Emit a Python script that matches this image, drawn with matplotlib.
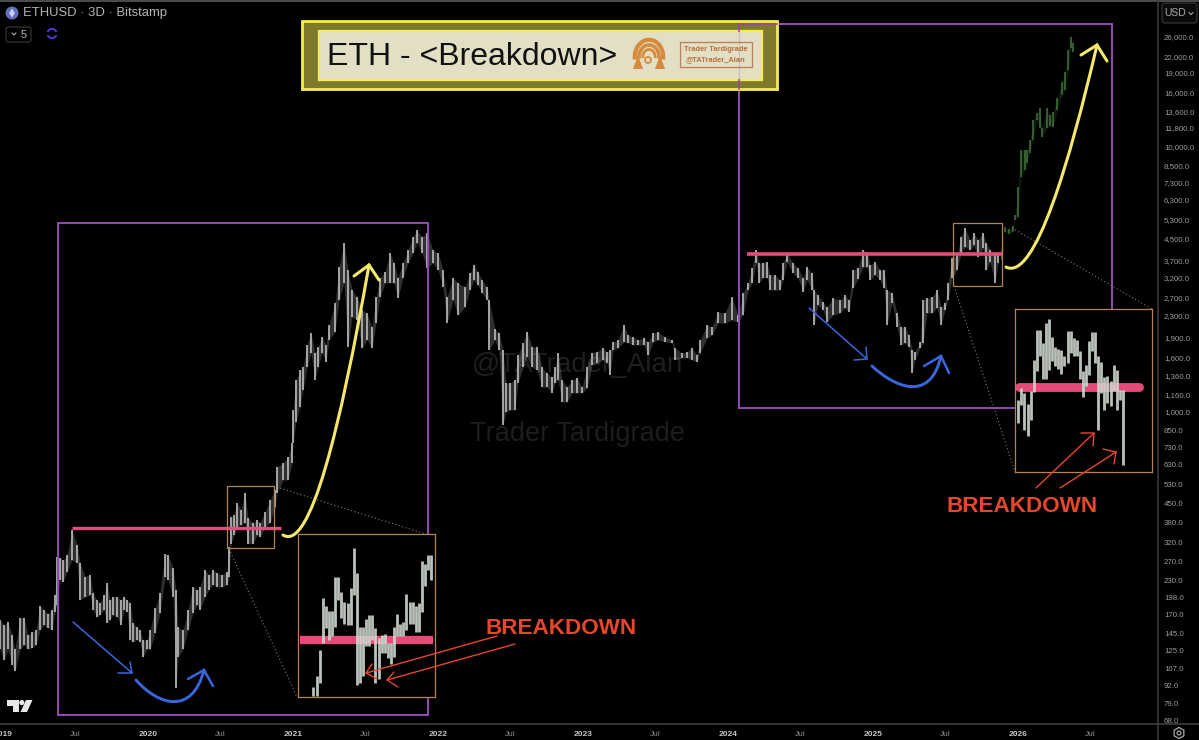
import matplotlib
matplotlib.use("Agg")
import matplotlib.pyplot as plt
import numpy as np
from matplotlib.patches import Rectangle, FancyBboxPatch, PathPatch, Arc, Polygon, Circle, RegularPolygon
from matplotlib.path import Path

plt.rcParams['font.family'] = ['Liberation Sans', 'DejaVu Sans']

# ---------------- price bars (decimal year, high, low) ----------------
years_2019 = [2018.979,2019.007,2019.034,2019.062,2019.082,2019.117,2019.145,2019.172,2019.200,2019.227,2019.255,2019.282,2019.310,2019.338,2019.358,2019.372,2019.393,2019.414,2019.441,2019.476,2019.510,2019.531,2019.565,2019.600,2019.620,2019.648,2019.669,2019.696,2019.717,2019.738,2019.758,2019.786,2019.813,2019.834,2019.855,2019.876,2019.896,2019.924,2019.945,2019.965,2019.993]
highs_2019 = [163,156,160,143,126,166,166,143,146,149,184,178,172,178,202,282,280,274,287,356,313,268,237,241,206,194,189,202,225,194,199,199,194,199,194,189,158,153,149,137,137]
lows_2019  = [126,115,126,110,104,126,131,126,128,131,149,156,152,149,175,186,231,227,248,274,268,194,199,202,178,167,170,178,158,163,170,167,156,178,175,137,134,137,134,118,126]

years_2020 = [2020.014,2020.048,2020.082,2020.117,2020.138,2020.172,2020.193,2020.207,2020.241,2020.276,2020.310,2020.338,2020.358,2020.393,2020.420,2020.448,2020.476,2020.510,2020.545,2020.558,2020.572,2020.593,2020.614,2020.641,2020.669,2020.689,2020.724,2020.751,2020.772,2020.807,2020.841,2020.876,2020.889,2020.931,2020.965,2020.993]
highs_2020 = [149,181,206,289,287,256,212,153,149,178,217,212,217,252,241,252,245,241,248,307,398,406,451,424,491,396,379,389,379,417,463,505,616,639,672,760]
lows_2020  = [126,145,173,237,231,199,90,118,126,149,173,186,178,199,212,221,217,217,221,237,316,341,366,372,379,316,316,341,335,366,379,435,492,550,550,639]

years_2021 = [2021.000,2021.020,2021.048,2021.069,2021.096,2021.124,2021.151,2021.172,2021.200,2021.227,2021.248,2021.289,2021.317,2021.351,2021.379,2021.407,2021.441,2021.476,2021.510,2021.545,2021.572,2021.600,2021.634,2021.669,2021.696,2021.724,2021.758,2021.793,2021.827,2021.855,2021.889,2021.924,2021.965]
highs_2021 = [1012,1314,1433,1470,1782,1978,1662,1752,1911,1782,2120,2568,3510,4330,3422,2875,2706,2416,2353,2084,2706,3200,3357,3967,3637,3200,3637,4072,4560,4847,4560,4722,4072]
lows_2021  = [760,911,1040,1204,1470,1662,1314,1470,1662,1537,1861,1995,2636,3056,1752,2273,2215,1736,1861,1736,2157,2706,3056,3056,3056,2682,3200,3637,3967,4329,3967,3482,3637]

years_2022 = [2022.000,2022.034,2022.062,2022.103,2022.138,2022.186,2022.220,2022.248,2022.276,2022.303,2022.338,2022.351,2022.393,2022.420,2022.448,2022.469,2022.496,2022.531,2022.551,2022.586,2022.614,2022.648,2022.682,2022.717,2022.751,2022.786,2022.807,2022.827,2022.855,2022.889,2022.924,2022.958,2022.993]
highs_2022 = [3967,3422,2706,3200,3056,2950,3333,3574,3360,3137,2950,2636,2048,1978,1706,1280,1280,1314,1633,1815,1995,1752,1752,1470,1396,1349,1470,1662,1314,1236,1314,1337,1236]
lows_2022  = [3422,2950,2157,2636,2313,2480,2875,3137,3003,2800,2636,1706,1861,1706,888,995,1012,1012,1280,1470,1604,1470,1433,1236,1236,1173,1280,1314,1085,1085,1173,1173,1173]

years_2023 = [2023.027,2023.062,2023.096,2023.138,2023.165,2023.186,2023.207,2023.241,2023.282,2023.310,2023.345,2023.379,2023.420,2023.448,2023.482,2023.517,2023.565,2023.614,2023.634,2023.682,2023.717,2023.751,2023.786,2023.807,2023.855,2023.889,2023.931,2023.979]
highs_2023 = [1470,1662,1678,1736,1678,1706,1829,1861,2120,1944,1911,1861,1894,1829,1978,1995,1911,1861,1736,1662,1678,1736,1633,1861,2120,2084,2373,2353]
lows_2023  = [1225,1497,1523,1564,1523,1372,1706,1736,1829,1815,1782,1782,1782,1633,1829,1861,1829,1815,1564,1592,1592,1564,1537,1662,1894,1944,2157,2157]

years_2024 = [2024.027,2024.069,2024.103,2024.138,2024.165,2024.193,2024.214,2024.241,2024.269,2024.289,2024.324,2024.358,2024.379,2024.407,2024.448,2024.482,2024.517,2024.545,2024.579,2024.593,2024.620,2024.655,2024.682,2024.724,2024.772,2024.807,2024.834,2024.862,2024.896,2024.931,2024.958,2024.979]
highs_2024 = [2706,2313,2800,3056,3482,4072,3637,3637,3670,3276,3276,3137,3637,3967,3637,3482,3200,3510,3333,2875,2753,2590,2480,2682,2636,2753,2636,3422,3482,4072,3998,3574]
lows_2024  = [2215,2176,2313,2875,3056,3637,3056,3200,3200,2875,2875,2875,3137,3670,3333,3200,2825,3137,2875,2120,2523,2416,2176,2313,2353,2460,2373,2925,3168,3510,3510,3137]

years_2025 = [2025.014,2025.048,2025.076,2025.096,2025.131,2025.165,2025.193,2025.220,2025.248,2025.269,2025.289,2025.324,2025.345,2025.372,2025.407,2025.441,2025.469,2025.496,2025.517,2025.545,2025.579,2025.607,2025.634,2025.669,2025.696,2025.724,2025.758,2025.779,2025.807,2025.841,2025.862]
highs_2025 = [3670,3422,3422,2875,2800,2353,2084,2084,1944,1706,1678,1829,2636,2682,2706,2875,2480,2568,3056,3800,3899,4560,4940,4443,4722,4443,4722,4329,4072,3899,3967]
lows_2025  = [3276,3137,2925,2120,2568,2084,1782,1815,1752,1396,1564,1736,1815,2353,2353,2460,2120,2416,2636,3200,3422,3967,4180,4072,4254,3830,4145,3422,3670,3056,3637]

# green projected path
proj_years = [2025.889,2025.910,2025.938,2025.965,2025.979,2026.000,2026.020,2026.048,2026.062,2026.082,2026.103,2026.131,2026.151,2026.165,2026.200,2026.220,2026.241,2026.269,2026.303,2026.324,2026.345,2026.365,2026.379]
proj_highs = [4072,4975,4900,5000,5520,7050,9720,9720,9720,10610,12620,13420,14020,11780,14020,13200,13540,15290,17570,19175,23220,26000,24680]
proj_lows  = [3733,4764,4700,4764,5290,5430,7690,8170,8680,9460,10610,12620,11780,10890,11780,12000,11880,13780,15690,16390,19510,23630,22820]

# magnified 3-day candles
inset1_highs = [315,326,356,422,412,405,405,453,453,431,417,415,436,498,459,384,384,394,399,399,382,370,374,375,364,364,384,401,388,390,428,417,417,412,415,477,472,487,487]
inset1_lows  = [306,306,319,364,382,368,372,384,419,396,388,386,386,426,317,319,326,360,360,368,319,323,352,352,346,340,348,372,372,372,380,388,388,378,378,403,439,464,448]
inset2_highs = [3815,3965,3900,3761,3922,4355,4810,4810,4602,4917,4982,4694,4542,4511,4501,4403,4783,4783,4679,4643,4477,4190,4279,4627,4767,4767,4413,4316,4112,4121,4054,4279,4204,3935,3935]
inset2_lows  = [3531,3752,3455,3379,3570,3909,4190,4403,4085,4085,4213,4331,4260,4222,4158,4270,4307,4452,4403,4403,4085,3849,3996,4144,4477,4307,3455,3900,3691,3773,3732,3922,3691,3815,3077]

# resistance levels: price, start year, end year
level_2019 = (362, 2019.475, 2020.917)
level_2024 = (3933, 2024.131, 2025.896)
inset1_level = 368
inset2_level = 3974

price_ticks = [26000,22000,19000,16000,13600,11800,10000,8500,7300,6300,5300,4500,3700,3200,2700,2300,1900,1600,1360,1160,1000,850,730,630,530,450,380,320,270,230,198,170,145,125,107,92,79,68]
year_ticks = [2019,2020,2021,2022,2023,2024,2025,2026]
jul_ticks = [2019.5,2020.5,2021.5,2022.5,2023.5,2024.5,2025.5,2026.5]

W, H = 1199, 740
fig = plt.figure(figsize=(W/100, H/100), dpi=100, facecolor='black')

def box(l, t, r, b):
    return [l/W, 1-b/H, (r-l)/W, (b-t)/H]

# ---------------- main chart ----------------
ax = fig.add_axes(box(0, 2, 1158, 723), facecolor='black', zorder=1)
ax.set_yscale('log')
ax.set_xlim(2018.979, 2026.965)
ax.set_ylim(66.4, 35260)

BAR = '#b0b0b0'
def draw_bars(a, x, hi, lo, color, lw=1.3, fill_alpha=0.27):
    x = np.asarray(x); hi = np.asarray(hi); lo = np.asarray(lo)
    a.fill_between(x, lo, hi, color=color, alpha=fill_alpha, lw=0, zorder=2.5)
    a.vlines(x, lo, hi, color=color, lw=lw, zorder=3)

hist_x = years_2019+years_2020+years_2021+years_2022+years_2023+years_2024+years_2025
hist_h = highs_2019+highs_2020+highs_2021+highs_2022+highs_2023+highs_2024+highs_2025
hist_l = lows_2019+lows_2020+lows_2021+lows_2022+lows_2023+lows_2024+lows_2025
draw_bars(ax, hist_x, hist_h, hist_l, BAR)
draw_bars(ax, proj_years, proj_highs, proj_lows, '#3a6435')

PINK = '#e64a78'
ax.hlines(level_2019[0], level_2019[1], level_2019[2], color=PINK, lw=2.4, zorder=4)
ax.hlines(level_2024[0], level_2024[1], level_2024[2], color=PINK, lw=2.6, zorder=4)

ax.yaxis.tick_right()
ax.set_yticks(price_ticks)
ax.set_yticklabels([f"{v:,.1f}" for v in price_ticks])
ax.minorticks_off()
ax.tick_params(axis='y', which='both', length=0, pad=4.3, labelsize=5.7, labelcolor='#9b9b9b')
ax.set_xticks(year_ticks + jul_ticks)
ax.set_xticklabels([str(y) for y in year_ticks] + ['Jul']*len(jul_ticks))
ax.tick_params(axis='x', which='both', length=0, pad=5.6, labelsize=6)
for i, t in enumerate(ax.get_xticklabels()):
    if i < len(year_ticks):
        t.set_color('#c4c4c4'); t.set_fontweight('bold')
    else:
        t.set_color('#8a8a8a')
for s in ax.spines.values():
    s.set_visible(False)
ax.patch.set_visible(False)

# ---------------- watermarks beneath the candles ----------------
low = fig.add_axes([0,0,1,1], facecolor='none', zorder=0.5)
low.set_xlim(0, W); low.set_ylim(H, 0); low.axis('off')
low.text(577, 365, '@TATrader_Alan', color='#1f1f1f', fontsize=20, ha='center', va='center')
low.text(578, 434, 'Trader Tardigrade', color='#1d1d1d', fontsize=19.5, ha='center', va='center')

# ---------------- drawings that sit behind the insets ----------------
over0 = fig.add_axes([0,0,1,1], facecolor='none', zorder=2)
over0.set_xlim(0, W); over0.set_ylim(H, 0); over0.axis('off')

PURPLE = '#9449b8'
over0.add_patch(Rectangle((57.5,223), 370.5, 492, fill=False, ec=PURPLE, lw=1.4))
over0.add_patch(Rectangle((739,24), 373, 384, fill=False, ec=PURPLE, lw=1.4))
ORANGE = '#b5834f'
over0.add_patch(Rectangle((227,486), 47, 62, fill=False, ec=ORANGE, lw=0.9))
over0.add_patch(Rectangle((953,223), 49, 63, fill=False, ec=ORANGE, lw=0.9))
DOT = '#8a7a62'
for (a, b) in [((229,549),(297,697)), ((280,488),(435,537)), ((954,286),(1015,472)), ((1012,228),(1152,309))]:
    over0.plot([a[0],b[0]],[a[1],b[1]], color=DOT, lw=0.8, ls=(0,(1,2.2)))

# ---------------- insets ----------------
def make_inset(b, xlim, ylim, hi, lo, level, lv_x, lv_w, cap):
    a = fig.add_axes(box(*b), facecolor='black', zorder=3)
    a.set_yscale('log'); a.set_xlim(*xlim); a.set_ylim(*ylim)
    a.hlines(level, lv_x[0], lv_x[1], color=PINK, lw=lv_w, zorder=2, capstyle=cap)
    idx = np.arange(len(hi))
    a.vlines(idx, lo, hi, color='#cdd8cf', lw=2.0, zorder=3, alpha=0.9)
    a.set_xticks([]); a.set_yticks([]); a.minorticks_off()
    for s in a.spines.values():
        s.set_color(ORANGE); s.set_linewidth(0.9)
    return a

make_inset((298,534,435,697), (-5,39.2), (304.5,522), inset1_highs, inset1_lows, inset1_level, (-4.3,38.7), 6, 'butt')
make_inset((1015,309,1152,472), (-1.09,43.5), (3003,5150), inset2_highs, inset2_lows, inset2_level, (0.2,39.2), 6.4, 'round')

# ---------------- upper overlay ----------------
ov = fig.add_axes([0,0,1,1], facecolor='none', zorder=5)
ov.set_xlim(0, W); ov.set_ylim(H, 0); ov.axis('off')

def bez(p0, c1, c2, p1, color, lw):
    ov.add_patch(PathPatch(Path([p0,c1,c2,p1],[Path.MOVETO,Path.CURVE4,Path.CURVE4,Path.CURVE4]),
                           fill=False, ec=color, lw=lw, capstyle='round'))
def poly(pts, color, lw):
    xs, ys = zip(*pts)
    ov.plot(xs, ys, color=color, lw=lw, solid_capstyle='round', solid_joinstyle='miter')

YEL = '#f6e96a'
bez((283,535),(310,552),(340,430),(369,265), YEL, 2.2)
poly([(354,276),(369,265),(379,280)], YEL, 2.2)
bez((1006,267),(1035,282),(1070,160),(1097,45), YEL, 2.2)
poly([(1081,55),(1097,45),(1107,61)], YEL, 2.2)

BLUE = '#3a66dc'
poly([(73,622),(132,673)], BLUE, 1.1)
poly([(118,673),(132,673),(130,662)], BLUE, 1.1)
bez((136,680),(158,705),(192,716),(204,670), BLUE, 2.1)
poly([(188,679),(204,670),(213,686)], BLUE, 1.8)
poly([(809,308),(867,359)], BLUE, 1.1)
poly([(854,360),(867,359),(866,347)], BLUE, 1.1)
bez((872,366),(892,385),(930,405),(941,356), BLUE, 2.1)
poly([(924,366),(941,356),(949,373)], BLUE, 1.8)

RED = '#e8462c'
poly([(497,636),(366,673)], RED, 1.0)
poly([(372,664),(366,673),(377,679)], RED, 1.0)
poly([(515,644),(387,680)], RED, 1.0)
poly([(394,672),(387,680),(398,687)], RED, 1.0)
poly([(1036,488),(1094,433)], RED, 1.0)
poly([(1081,433),(1094,433),(1093,446)], RED, 1.0)
poly([(1060,488),(1116,452)], RED, 1.0)
poly([(1103,449),(1116,452),(1114,464)], RED, 1.0)
ov.text(561, 629, 'BREAKDOWN', color=RED, fontsize=16.2, fontweight='bold', ha='center', va='center')
ov.text(1022.5, 506, 'BREAKDOWN', color=RED, fontsize=16.2, fontweight='bold', ha='center', va='center')

# title box
ov.add_patch(Rectangle((302,21), 475, 68, fc='#7e7a2c', ec='#f7ec55', lw=2))
ov.add_patch(Rectangle((319,31), 443, 49, fc='#e3dfc4', ec='#f7ec55', lw=1.6))
ov.plot([739,777],[24,24], color='#a0479f', lw=1.2)
ov.plot([739,739],[24,31], color='#a0479f', lw=1.2)
ov.plot([739,739],[31,80], color='#a05aa8', lw=0.9, alpha=0.25)
ov.plot([739,739],[80,89], color='#a0479f', lw=1.2)
ov.text(327, 57, 'ETH - <Breakdown>', color='#111111', fontsize=23, ha='left', va='center')
# logo swirl
LOGO = '#d68a3d'
for r, lw in [(15,3.0),(10.5,2.6),(6.5,2.0)]:
    ov.add_patch(Arc((649,57), 2*r*0.95, 2*r*1.15, theta1=170, theta2=370, color=LOGO, lw=lw))
ov.add_patch(Polygon([(633,69),(638,55),(643,69)], fc=LOGO, ec='none'))
ov.add_patch(Polygon([(655,69),(660,55),(665,69)], fc=LOGO, ec='none'))
ov.add_patch(Circle((648,60), 3.0, fc='none', ec=LOGO, lw=1.3))
ov.add_patch(Rectangle((680,42), 72, 25, fc='none', ec='#b87f58', lw=0.9))
ov.text(716, 49.5, 'Trader Tardigrade', color='#b5713c', fontsize=5.4, fontweight='bold', ha='center', va='center')
ov.text(716, 59.5, '@TATrader_Alan', color='#b5713c', fontsize=5.4, fontweight='bold', ha='center', va='center')

# header
ov.plot([0,W],[0.5,0.5], color='#5a5a5a', lw=1.2)
ov.add_patch(Circle((12,13), 6.5, fc='#5e6fb8', ec='none'))
ov.add_patch(Polygon([(12,8.5),(15,13),(12,17.5),(9,13)], fc='#c8d0ee', ec='none'))
ov.text(23, 13.2, 'ETHUSD \u00b7 3D \u00b7 Bitstamp', color='#b4b4b4', fontsize=9.4, ha='left', va='center')
ov.add_patch(FancyBboxPatch((6,27), 25, 15, boxstyle='round,pad=0,rounding_size=2.5', fc='none', ec='#3a3a3a', lw=0.8))
poly([(12,33),(14,35),(16,33)], '#b4b4b4', 0.8)
ov.text(24, 34.5, '5', color='#b4b4b4', fontsize=8, ha='center', va='center')
ov.add_patch(Arc((52,33.5), 9.2, 9.2, theta1=20, theta2=160, color='#4a34d6', lw=1.5))
ov.add_patch(Arc((52,33.5), 9.2, 9.2, theta1=200, theta2=340, color='#4a34d6', lw=1.5))
# USD button
ov.add_patch(FancyBboxPatch((1162,3), 35, 20, boxstyle='round,pad=0,rounding_size=3', fc='#0b0b0b', ec='#333333', lw=0.9))
ov.text(1164.5, 13.5, 'USD', color='#a8a8a8', fontsize=7.5, ha='left', va='center')
poly([(1189,12.5),(1191,14.5),(1193,12.5)], '#a8a8a8', 0.8)
# axis frame
ov.plot([0,W],[723.5,723.5], color='#454545', lw=1.1)
ov.plot([1158,1158],[1,740], color='#3e3e3e', lw=1.1)
# gear
ov.add_patch(RegularPolygon((1179,733), 6, radius=5.6, fc='none', ec='#a8a8a8', lw=0.9))
ov.add_patch(Circle((1179,733), 1.9, fc='none', ec='#a8a8a8', lw=0.9))
# TradingView mark
ov.add_patch(Polygon([(7,700),(19,700),(19,712),(13,712),(13,706),(7,706)], fc='#e8e8e8', ec='none'))
ov.add_patch(Circle((21.8,702.6), 2.6, fc='#e8e8e8', ec='none'))
ov.add_patch(Polygon([(26,700),(32.5,700),(27,712),(20.5,712)], fc='#e8e8e8', ec='none'))

fig.savefig('out.png', dpi=100, facecolor='black')
